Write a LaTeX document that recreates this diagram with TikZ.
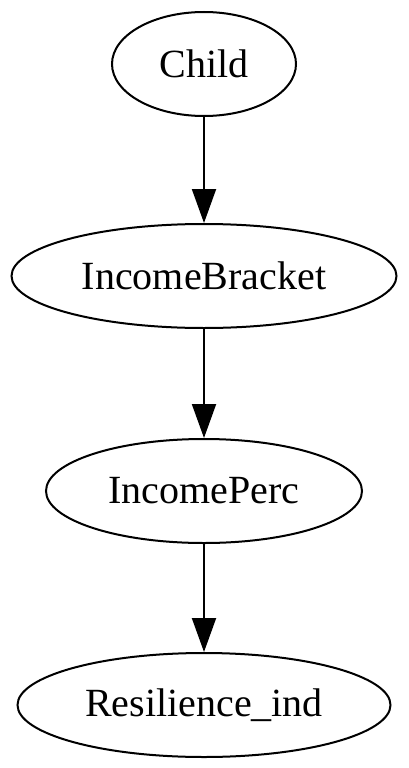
\documentclass[tikz,border=0pt]{standalone}
\usepackage{fontspec}
\setmainfont{Liberation Serif}
\usetikzlibrary{shapes.geometric, arrows.meta}

\begin{document}
\begin{tikzpicture}[
    x=1pt, y=1pt,
    varnode/.style={draw, ellipse, line width=2pt, inner sep=0pt, minimum height=104pt, align=center, font=\fontsize{40}{48}\selectfont},
    link/.style={line width=2pt, -{Triangle[length=34pt, width=24pt]}}
]
    \useasboundingbox (0,0) rectangle (408,-768);

    % ================= VARIABLES =================
    \node[varnode, minimum width=184pt] (CHILD)  at (204, -64)  {Child};
    \node[varnode, minimum width=385pt] (BRACK)  at (204, -276) {IncomeBracket};
    \node[varnode, minimum width=316pt] (PERC)   at (204, -491) {IncomePerc};
    \node[varnode, minimum width=373pt] (RESIL)  at (204, -705) {Resilience\_ind};

    % ================= EDGES =================
    \draw[link] (CHILD) -- (BRACK);
    \draw[link] (BRACK) -- (PERC);
    \draw[link] (PERC) -- (RESIL);

\end{tikzpicture}
\end{document}
